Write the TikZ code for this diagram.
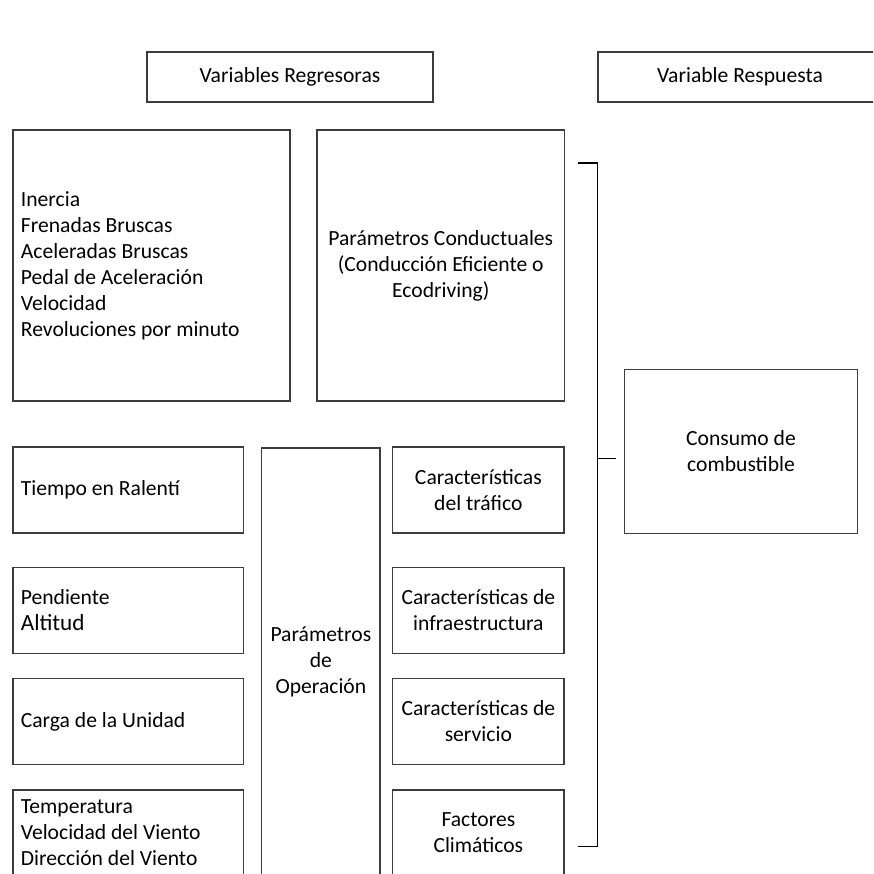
\documentclass[tikz,border=0pt]{standalone}
\usepackage{fontspec}
\setmainfont{Carlito}
\usepackage{tikz}
\usetikzlibrary{positioning,calc}
\definecolor{bordegris}{RGB}{60,60,60}
\tikzset{
  caja/.style={draw=bordegris,line width=0.8pt,inner sep=0pt,
    font=\fontsize{12.3}{14.8}\selectfont},
  fila/.style={caja,minimum width=4.62cm,minimum height=1.72cm,
    text width=4.3cm,align=flush left},
  factor/.style={caja,minimum width=3.43cm,minimum height=1.72cm,
    text width=3.4cm,align=flush center},
  llave/.style={draw=black,line width=0.8pt}
}

\begin{document}
\begin{tikzpicture}[x=0.02cm,y=-0.02cm]
  % tamaño de la figura en px (873 x 874)
  \useasboundingbox (0,0) rectangle (873,874);
  \clip (0,0) rectangle (873,874);

  % Encabezados
  \node[caja,minimum width=5.72cm,minimum height=1cm] (regresoras) at (290,77) {Variables Regresoras};
  \node[caja,minimum width=5.68cm,minimum height=1cm] (respuesta) at (740,77) {Variable Respuesta};

  % Bloque superior
  \node[caja,minimum width=5.54cm,minimum height=5.42cm,text width=5.22cm,align=flush left]
    (conducta) at (151.4,265.5) {Inercia\\Frenadas Bruscas\\Aceleradas Bruscas\\Pedal de Aceleración\\Velocidad\\Revoluciones por minuto};
  \node[caja,minimum width=4.96cm,minimum height=5.42cm,text width=4.8cm,align=flush center]
    (conductuales) at (440.8,265.5) {Parámetros Conductuales\\(Conducción Eficiente o\\Ecodriving)};

  % Columna izquierda: filas cada ~115 px
  \foreach \nombre/\y/\texto in {tiempo/490/{Tiempo en Ralentí},
      pendiente/610.5/{Pendiente\\{\fontsize{13.2}{15}\selectfont Altitud}},
      carga/721.5/{Carga de la Unidad},
      clima/833/{Temperatura\\Velocidad del Viento\\Dirección del Viento}} {
    \node[fila] (\nombre) at (128.3,\y) {\texto};
  }

  % Columna central
  \node[caja,minimum width=2.37cm,minimum height=8.56cm,text width=2.3cm,align=flush center]
    (operacion) at (320.85,662) {Parámetros\\de\\Operación};

  % Columna derecha
  \foreach \nombre/\y/\texto in {trafico/490/{Características\\del tráfico},
      infra/610.5/{Características de\\infraestructura},
      servicio/721.5/{Características de\\servicio},
      factores/833/{Factores\\Climáticos}} {
    \node[factor] (\nombre) at (478.35,\y) {\texto};
  }

  % Variable respuesta
  \node[caja,minimum width=4.65cm,minimum height=3.28cm,text width=4.5cm,align=flush center]
    (consumo) at (741,451.3) {Consumo de\\combustible};

  % Llave
  \coordinate (llaveA) at (578,163);
  \coordinate (llaveB) at (578,846.7);
  \coordinate (llaveM) at (597.5,458.3);
  \draw[llave] (llaveA) -- ++(19.5,0) |- (llaveB);
  \draw[llave,shorten >=0.16cm] (llaveM) -- (consumo.west |- llaveM);
\end{tikzpicture}
\end{document}
